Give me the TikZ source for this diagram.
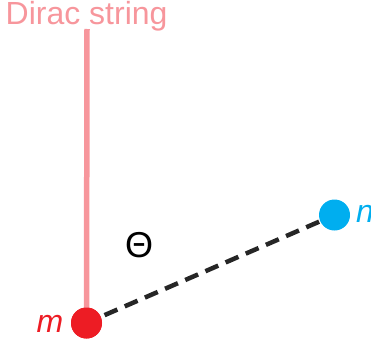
\documentclass[tikz,border=0pt]{standalone}
\usepackage{fontspec}
\setmainfont{Liberation Sans}
\definecolor{stringpink}{HTML}{F7969C}
\definecolor{mred}{HTML}{ED1C24}
\definecolor{nblue}{HTML}{00AEEF}
\begin{document}
\begin{tikzpicture}[x=1pt,y=-1pt,
  dot/.style={circle,inner sep=0pt,minimum size=31pt},
  lbl/.style={inner sep=0pt,anchor=base west}]
\useasboundingbox (0,0) rectangle (371,345);
\clip (0,0) rectangle (371,345);
\node[lbl,text=stringpink,font=\fontsize{32}{32}\selectfont] (title) at (5.5,25) {Dirac string};
\coordinate (top) at (87,29);
\node[dot,fill=mred] (m) at (86.5,323) {};
\node[dot,fill=nblue] (n) at (334.5,215) {};
\draw[stringpink,line width=5.5pt] (top) -- (m.center);
\node[dot,fill=mred] at (m) {};
\draw[black!85,line width=4.5pt,dash pattern=on 14pt off 8pt,shorten <=4pt] (m) -- (n);
\node[lbl,text=mred,font=\fontsize{32}{32}\selectfont\itshape] (ml) at (36.5,332) {m};
\node[lbl,text=nblue,font=\fontsize{32}{32}\selectfont\itshape] (nl) at (356,222) {n};
\node[inner sep=0pt,font=\fontsize{36}{36}\selectfont] (theta) at (139,245.5) {Θ};
\end{tikzpicture}
\end{document}
